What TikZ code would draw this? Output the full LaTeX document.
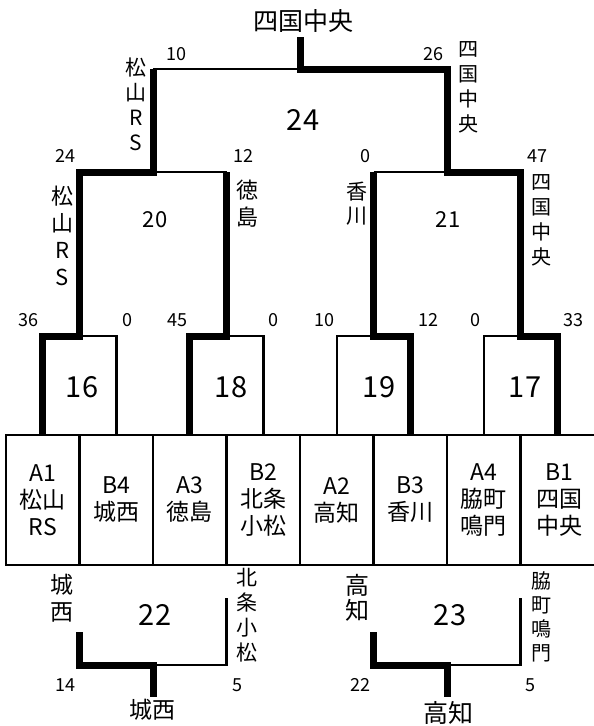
\documentclass[tikz,border=0pt]{standalone}
\usepackage{fontspec}
\setmainfont{Noto Sans CJK JP}
\usetikzlibrary{positioning}

\begin{document}
\begin{tikzpicture}[x=1pt,y=-1pt,
        winline/.style={line width=7pt},
        loseline/.style={line width=2.5pt},
        team/.style={draw,line width=2.5pt,outer sep=0pt,inner sep=0pt,minimum width=73.5pt,minimum height=130pt,align=center,font=\fontsize{23}{27}\selectfont},
        score/.style={font=\fontsize{18}{20}\selectfont},
        matchno/.style={font=\fontsize{29}{30}\selectfont},
        vname/.style={align=center,font=\fontsize{21}{25}\selectfont}]
    \useasboundingbox (0,0) rectangle (594,726);

    % teams
    \node[team] (t1) at (42.75,500) {A1\\松山\\RS};
    \node[team,right=0pt of t1] (t2) {B4\\城西};
    \node[team,right=0pt of t2] (t3) {A3\\徳島};
    \node[team,right=0pt of t3] (t4) {B2\\北条\\小松};
    \node[team,right=0pt of t4] (t5) {A2\\高知};
    \node[team,right=0pt of t5] (t6) {B3\\香川};
    \node[team,right=0pt of t6] (t7) {A4\\脇町\\鳴門};
    \node[team,right=0pt of t7,minimum width=77.5pt] (t8) {B1\\四国\\中央};

    % bracket
    \coordinate (m16) at (79.5,336);
    \coordinate (m18) at (226.5,336);
    \coordinate (m19) at (373.5,336);
    \coordinate (m17) at (520.5,336);
    \coordinate (m20) at (153,172);
    \coordinate (m21) at (447,172);
    \coordinate (m24) at (300,69);
    \coordinate (champ) at (300,37);

    \draw[loseline] (t2.north) |- (m16);
    \draw[loseline] (t4.north) |- (m18);
    \draw[loseline] (t5.north) |- (m19);
    \draw[loseline] (t7.north) |- (m17);
    \draw[loseline] (m18 |- m20) -- (m20);
    \draw[loseline] (m19 |- m21) -- (m21);
    \draw[loseline] (m20 |- m24) -- (m24);
    \draw[winline] (t1.north) |- (m16) |- (m20) -- (m20 |- m24);
    \draw[winline] (t3.north) |- (m18) -- (m18 |- m20);
    \draw[winline] (t6.north) |- (m19) -- (m19 |- m21);
    \draw[winline] (t8.north) ++(-2,0) |- (m17) |- (m21) |- (m24) -- (champ);

    % 3rd place games
    \coordinate (m22) at (153,665);
    \coordinate (m23) at (447,665);
    \draw[loseline] (m22) -| (226.5,598);
    \draw[loseline] (m23) -| (520.5,598);
    \draw[winline] (79.5,632) |- (m22) -- (153,697);
    \draw[winline] (373.5,632) |- (m23) -- (447,697);

    % match numbers
    \node[matchno] (n24) at (303,120) {24};
    \node[font=\fontsize{22}{24}\selectfont] (n20) at (155,220) {20};
    \node[font=\fontsize{22}{24}\selectfont] (n21) at (448,220) {21};
    \node[matchno] (n16) at (82,387) {16};
    \node[matchno] (n18) at (231,387) {18};
    \node[matchno] (n19) at (379,387) {19};
    \node[matchno] (n17) at (525,387) {17};
    \node[matchno] (n22) at (155,615) {22};
    \node[matchno] (n23) at (450,615) {23};

    % scores
    \node[score] (s24l) at (176,54) {10};
    \node[score] (s24r) at (433,54) {26};
    \node[score] (s20l) at (65,156) {24};
    \node[score] (s20r) at (243,156) {12};
    \node[score] (s21l) at (365,156) {0};
    \node[score] (s21r) at (537,156) {47};
    \node[score] (s16l) at (28,320) {36};
    \node[score] (s16r) at (127,320) {0};
    \node[score] (s18l) at (177,320) {45};
    \node[score] (s18r) at (273,320) {0};
    \node[score] (s19l) at (324,320) {10};
    \node[score] (s19r) at (428,320) {12};
    \node[score] (s17l) at (475,320) {0};
    \node[score] (s17r) at (573,320) {33};
    \node[score] (s22l) at (65,685) {14};
    \node[score] (s22r) at (237,685) {5};
    \node[score] (s23l) at (360,685) {22};
    \node[score] (s23r) at (530,685) {5};

    % names along the lines
    \node[vname] (v24l) at (136,104.5) {松\\山\\R\\S};
    \node[vname,font=\fontsize{20}{25}\selectfont] (v24r) at (468,87.5) {四\\国\\中\\央};
    \node[vname,font=\fontsize{22}{27}\selectfont] (v20l) at (62,236) {松\\山\\R\\S};
    \node[vname,font=\fontsize{22}{27}\selectfont] (v20r) at (247,203.5) {徳\\島};
    \node[vname,font=\fontsize{21}{24}\selectfont] (v21l) at (357,203.5) {香\\川};
    \node[vname,font=\fontsize{20}{25}\selectfont] (v21r) at (541,220.5) {四\\国\\中\\央};
    \node[vname,font=\fontsize{23}{27}\selectfont] (v22l) at (62,598.5) {城\\西};
    \node[vname] (v22r) at (247,615) {北\\条\\小\\松};
    \node[vname,font=\fontsize{24}{25}\selectfont] (v23l) at (357,597.5) {高\\知};
    \node[vname,font=\fontsize{20}{24}\selectfont] (v23r) at (541,617) {脇\\町\\鳴\\門};

    % winners
    \node[font=\fontsize{25}{27}\selectfont] (title) at (303,21) {四国中央};
    \node[font=\fontsize{23}{25}\selectfont] (w22) at (152,710) {城西};
    \node[font=\fontsize{25}{27}\selectfont] (w23) at (448,713) {高知};
\end{tikzpicture}
\end{document}
